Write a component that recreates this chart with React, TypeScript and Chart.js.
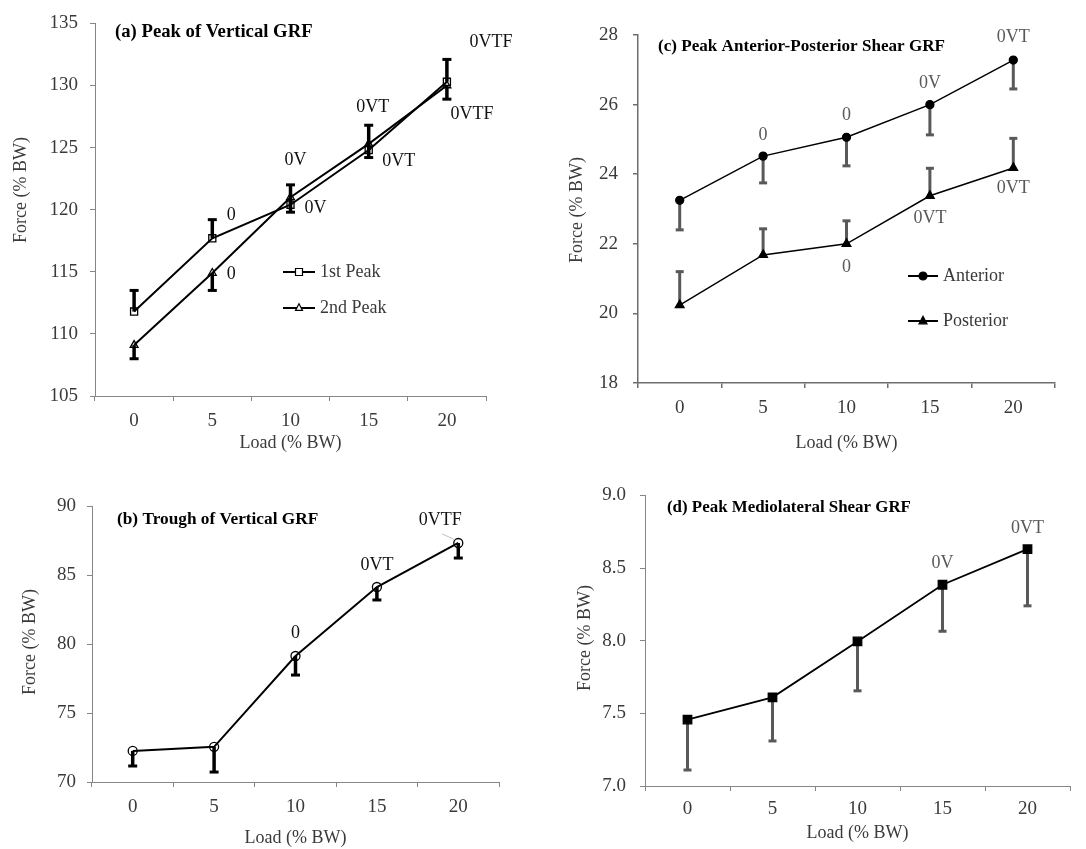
import React, { useEffect, useRef } from 'react';
import { Chart, registerables } from 'chart.js';

Chart.register(...registerables);

// ---------------- data ----------------
const loadLabels = ['0', '5', '10', '15', '20'];

// (a) Peak of vertical GRF
const peak1Mean = [111.8, 117.7, 120.4, 124.8, 130.3];
const peak1ErrEnd = [113.5, 119.2, 122.0, 126.8, 132.1];
const peak1Sig = ['', '0', '0V', '0VT', '0VTF'];
const peak2Mean = [109.1, 114.9, 121.0, 125.3, 130.0];
const peak2ErrEnd = [108.0, 113.5, 119.8, 124.2, 128.9];
const peak2Sig = ['', '0', '0V', '0VT', '0VTF'];
const yTicksA = [105, 110, 115, 120, 125, 130, 135];

// (b) Trough of vertical GRF
const troughMean = [72.25, 72.55, 79.13, 84.13, 87.32];
const troughErrEnd = [71.16, 70.72, 77.75, 83.19, 86.23];
const troughSig = ['', '', '0', '0VT', '0VTF'];
const yTicksB = [70, 75, 80, 85, 90];

// (c) Peak anterior-posterior shear GRF
const anteriorMean = [23.25, 24.52, 25.06, 26.0, 27.28];
const anteriorErrEnd = [22.4, 23.75, 24.24, 25.13, 26.45];
const anteriorSig = ['', '0', '0', '0V', '0VT'];
const posteriorMean = [20.24, 21.68, 22.0, 23.38, 24.18];
const posteriorErrEnd = [21.2, 22.43, 22.66, 24.17, 25.03];
const posteriorSig = ['', '', '0', '0VT', '0VT'];
const yTicksC = [18, 20, 22, 24, 26, 28];

// (d) Peak mediolateral shear GRF
const mediolateralMean = [7.457, 7.61, 7.995, 8.385, 8.63];
const mediolateralErrEnd = [7.11, 7.31, 7.655, 8.065, 8.24];
const mediolateralSig = ['', '', '', '0V', '0VT'];
const yTicksD = [7.0, 7.5, 8.0, 8.5, 9.0];

// ---------------- style ----------------
const FONT = "'Liberation Serif', 'DejaVu Serif', serif";
const FS = 18;
const TICK_FS = 19;
const TEXT = '#3a3a3a';
const AXIS = '#868686';
const BAR_GRAY = '#595959';

type Marker = 'rect' | 'triangle' | 'circle';

interface ErrSpec { dataset: number; ends: number[]; color: string; width: number; cap: number; capW: number; }
interface SigSpec { dataset: number; texts: string[]; offsets: number[][]; color: string; leader?: boolean[]; }
interface LegSpec { text: string; x1: number; x2: number; y: number; marker: Marker; size: number; filled: boolean; }

interface PanelSpec {
  left: number; top: number; width: number; height: number;
  ca: { l: number; r: number; t: number; b: number };
  xTitleY: number; yTitle: { x: number; y: number }; yTickGap: number; xTickPad: number;
  yTicks: number[]; decimals: number; axisColor: string; axisWidth: number;
  title: { text: string; x: number; y: number; size: number };
  datasets: any[];
  errors: ErrSpec[];
  sigs: SigSpec[];
  legend: LegSpec[];
  legendTextX: number;
}

function drawMarker(ctx: CanvasRenderingContext2D, m: Marker, x: number, y: number, s: number, filled: boolean) {
  ctx.beginPath();
  if (m === 'rect') {
    ctx.rect(x - s / 2, y - s / 2, s, s);
  } else if (m === 'triangle') {
    ctx.moveTo(x, y - s * 0.6);
    ctx.lineTo(x - s / 2, y + s * 0.35);
    ctx.lineTo(x + s / 2, y + s * 0.35);
    ctx.closePath();
  } else {
    ctx.arc(x, y, s / 2, 0, Math.PI * 2);
  }
  ctx.fillStyle = filled ? '#000' : '#fff';
  ctx.fill();
  ctx.strokeStyle = '#000';
  ctx.lineWidth = 1.2;
  ctx.stroke();
}

function makeExtras(p: PanelSpec) {
  return {
    id: 'extras',
    beforeDatasetsDraw(chart: any) {
      const ctx = chart.ctx as CanvasRenderingContext2D;
      const ys = chart.scales.y;
      ctx.save();
      for (const e of p.errors) {
        const meta = chart.getDatasetMeta(e.dataset);
        meta.data.forEach((pt: any, i: number) => {
          const x = pt.x;
          const y0 = pt.y;
          const y1 = ys.getPixelForValue(e.ends[i]);
          ctx.strokeStyle = e.color;
          ctx.lineCap = 'butt';
          ctx.lineWidth = e.width;
          ctx.beginPath();
          ctx.moveTo(x, y0);
          ctx.lineTo(x, y1);
          ctx.stroke();
          ctx.lineWidth = e.capW;
          ctx.beginPath();
          ctx.moveTo(x - e.cap / 2, y1);
          ctx.lineTo(x + e.cap / 2, y1);
          ctx.stroke();
        });
      }
      ctx.restore();
    },
    afterDatasetsDraw(chart: any) {
      const ctx = chart.ctx as CanvasRenderingContext2D;
      ctx.save();
      ctx.font = `${FS}px ${FONT}`;
      ctx.textAlign = 'center';
      ctx.textBaseline = 'middle';
      for (const s of p.sigs) {
        const meta = chart.getDatasetMeta(s.dataset);
        meta.data.forEach((pt: any, i: number) => {
          const t = s.texts[i];
          if (!t) return;
          const [dx, dy] = s.offsets[i];
          ctx.fillStyle = s.color;
          ctx.fillText(t, pt.x + dx, pt.y + dy);
          if (s.leader && s.leader[i]) {
            ctx.strokeStyle = '#c0c0c0';
            ctx.lineWidth = 1;
            ctx.beginPath();
            ctx.moveTo(pt.x + dx + 2, pt.y + dy + 14);
            ctx.lineTo(pt.x - 3, pt.y - 3);
            ctx.stroke();
          }
        });
      }
      // y axis title
      ctx.save();
      ctx.translate(p.yTitle.x, p.yTitle.y);
      ctx.rotate(-Math.PI / 2);
      ctx.fillStyle = TEXT;
      ctx.font = `${FS}px ${FONT}`;
      ctx.fillText('Force (% BW)', 0, 0);
      ctx.restore();
      // panel title
      ctx.font = `bold ${p.title.size}px ${FONT}`;
      ctx.textAlign = 'left';
      ctx.fillStyle = '#000';
      ctx.fillText(p.title.text, p.title.x, p.title.y);
      // legend
      ctx.font = `${FS}px ${FONT}`;
      for (const l of p.legend) {
        ctx.strokeStyle = '#000';
        ctx.lineWidth = 2;
        ctx.beginPath();
        ctx.moveTo(l.x1, l.y);
        ctx.lineTo(l.x2, l.y);
        ctx.stroke();
        drawMarker(ctx, l.marker, (l.x1 + l.x2) / 2, l.y, l.size, l.filled);
        ctx.fillStyle = TEXT;
        ctx.textAlign = 'left';
        ctx.fillText(l.text, p.legendTextX, l.y);
      }
      ctx.restore();
    },
  };
}

function buildConfig(p: PanelSpec): any {
  const lh = FS * 1.2;
  const font = { family: FONT, size: FS };
  const tickFont = { family: FONT, size: TICK_FS };
  return {
    type: 'line',
    data: { labels: loadLabels, datasets: p.datasets },
    options: {
      responsive: false,
      animation: false,
      devicePixelRatio: 1,
      layout: { padding: { top: p.ca.t, right: p.width - p.ca.r, bottom: 0, left: 0 } },
      plugins: { legend: { display: false }, tooltip: { enabled: false }, title: { display: false } },
      scales: {
        x: {
          type: 'category',
          offset: true,
          grid: { offset: true, drawOnChartArea: false, drawTicks: true, tickLength: 5, color: p.axisColor, lineWidth: p.axisWidth },
          border: { color: p.axisColor, width: p.axisWidth },
          ticks: { font: tickFont, color: TEXT, padding: p.xTickPad, maxRotation: 0, autoSkip: false },
          title: { display: true, text: 'Load (% BW)', font, color: TEXT, padding: { top: 0, bottom: p.height - p.xTitleY - lh / 2 } },
          afterFit: (s: any) => { s.height = p.height - p.ca.b; },
        },
        y: {
          min: p.yTicks[0],
          max: p.yTicks[p.yTicks.length - 1],
          afterBuildTicks: (s: any) => { s.ticks = p.yTicks.map((v) => ({ value: v })); },
          ticks: { font: tickFont, color: TEXT, padding: p.yTickGap - 5, callback: (v: any) => Number(v).toFixed(p.decimals) },
          grid: { drawOnChartArea: false, drawTicks: true, tickLength: 5, color: p.axisColor, lineWidth: p.axisWidth },
          border: { color: p.axisColor, width: p.axisWidth },
          title: { display: false },
          afterFit: (s: any) => { s.width = p.ca.l; },
        },
      },
    },
    plugins: [makeExtras(p)],
  };
}

function lineDs(label: string, data: number[], style: Marker, radius: number, filled: boolean, width: number) {
  return {
    label,
    data,
    borderColor: '#000',
    borderWidth: width,
    fill: false,
    tension: 0,
    pointStyle: style,
    pointRadius: radius,
    pointBorderWidth: 1.3,
    pointBorderColor: '#000',
    pointBackgroundColor: filled ? '#000' : 'rgba(255,255,255,0)',
  };
}

const panelA: PanelSpec = {
  left: 0, top: 0, width: 540, height: 460,
  ca: { l: 95, r: 486, t: 18, b: 396 },
  xTitleY: 443, yTitle: { x: 21, y: 190 }, yTickGap: 17, xTickPad: 9,
  yTicks: yTicksA, decimals: 0, axisColor: AXIS, axisWidth: 1,
  title: { text: '(a) Peak of Vertical GRF', x: 115, y: 32, size: 18.7 },
  datasets: [
    lineDs('1st Peak', peak1Mean, 'rect', 5, false, 2),
    lineDs('2nd Peak', peak2Mean, 'triangle', 4.5, false, 2),
  ],
  errors: [
    { dataset: 0, ends: peak1ErrEnd, color: '#000', width: 3.5, cap: 9, capW: 3 },
    { dataset: 1, ends: peak2ErrEnd, color: '#000', width: 3.5, cap: 9, capW: 3 },
  ],
  sigs: [
    { dataset: 0, texts: peak1Sig, offsets: [[0, 0], [19, -23], [5, -44], [4, -43], [44, -40]], color: '#111' },
    { dataset: 1, texts: peak2Sig, offsets: [[0, 0], [19, 1], [25, 11], [30, 17], [25, 29]], color: '#111' },
  ],
  legend: [
    { text: '1st Peak', x1: 283, x2: 315, y: 272, marker: 'rect', size: 7, filled: false },
    { text: '2nd Peak', x1: 283, x2: 315, y: 308, marker: 'triangle', size: 7, filled: false },
  ],
  legendTextX: 320,
};

const panelB: PanelSpec = {
  left: 0, top: 470, width: 540, height: 379,
  ca: { l: 92, r: 499, t: 36, b: 312 },
  xTitleY: 368, yTitle: { x: 30, y: 172 }, yTickGap: 16, xTickPad: 9,
  yTicks: yTicksB, decimals: 0, axisColor: AXIS, axisWidth: 1,
  title: { text: '(b) Trough of Vertical GRF', x: 117, y: 50, size: 17.3 },
  datasets: [lineDs('Trough', troughMean, 'circle', 4.5, false, 2)],
  errors: [{ dataset: 0, ends: troughErrEnd, color: '#000', width: 3.5, cap: 9, capW: 3 }],
  sigs: [
    { dataset: 0, texts: troughSig, offsets: [[0, 0], [0, 0], [0, -23], [0, -22], [-18, -23]], color: '#111', leader: [false, false, false, false, true] },
  ],
  legend: [],
  legendTextX: 0,
};

const panelC: PanelSpec = {
  left: 540, top: 0, width: 546, height: 460,
  ca: { l: 98, r: 515, t: 35, b: 383 },
  xTitleY: 443, yTitle: { x: 37, y: 210 }, yTickGap: 20, xTickPad: 9,
  yTicks: yTicksC, decimals: 0, axisColor: '#6e6e6e', axisWidth: 1.5,
  title: { text: '(c) Peak Anterior-Posterior Shear GRF', x: 118, y: 47, size: 17.1 },
  datasets: [
    lineDs('Anterior', anteriorMean, 'circle', 4, true, 1.5),
    lineDs('Posterior', posteriorMean, 'triangle', 5, true, 1.5),
  ],
  errors: [
    { dataset: 0, ends: anteriorErrEnd, color: BAR_GRAY, width: 3, cap: 8, capW: 3 },
    { dataset: 1, ends: posteriorErrEnd, color: BAR_GRAY, width: 3, cap: 8, capW: 3 },
  ],
  sigs: [
    { dataset: 0, texts: anteriorSig, offsets: [[0, 0], [0, -21], [0, -22], [0, -21], [0, -23]], color: BAR_GRAY },
    { dataset: 1, texts: posteriorSig, offsets: [[0, 0], [0, 0], [0, 23], [0, 22], [0, 20]], color: BAR_GRAY },
  ],
  legend: [
    { text: 'Anterior', x1: 368, x2: 398, y: 276, marker: 'circle', size: 8, filled: true },
    { text: 'Posterior', x1: 368, x2: 398, y: 321, marker: 'triangle', size: 8, filled: true },
  ],
  legendTextX: 403,
};

const panelD: PanelSpec = {
  left: 540, top: 470, width: 546, height: 379,
  ca: { l: 105, r: 530, t: 23, b: 316 },
  xTitleY: 363, yTitle: { x: 45, y: 168 }, yTickGap: 19, xTickPad: 7,
  yTicks: yTicksD, decimals: 1, axisColor: AXIS, axisWidth: 1,
  title: { text: '(d) Peak Mediolateral Shear GRF', x: 127, y: 38, size: 16.9 },
  datasets: [lineDs('Mediolateral', mediolateralMean, 'rect', 6, true, 1.8)],
  errors: [{ dataset: 0, ends: mediolateralErrEnd, color: BAR_GRAY, width: 3, cap: 8, capW: 3 }],
  sigs: [
    { dataset: 0, texts: mediolateralSig, offsets: [[0, 0], [0, 0], [0, 0], [0, -21], [0, -21]], color: BAR_GRAY },
  ],
  legend: [],
  legendTextX: 0,
};

function ChartPanel({ spec }: { spec: PanelSpec }) {
  const ref = useRef<HTMLCanvasElement>(null);
  useEffect(() => {
    const chart = new Chart(ref.current as HTMLCanvasElement, buildConfig(spec));
    return () => chart.destroy();
  }, [spec]);
  return (
    <canvas
      ref={ref}
      width={spec.width}
      height={spec.height}
      style={{ position: 'absolute', left: spec.left, top: spec.top, width: spec.width, height: spec.height }}
    />
  );
}

export default function App() {
  return (
    <div style={{ position: 'absolute', left: 0, top: 0, width: 1086, height: 849, background: '#fff', overflow: 'hidden' }}>
      <ChartPanel spec={panelA} />
      <ChartPanel spec={panelB} />
      <ChartPanel spec={panelC} />
      <ChartPanel spec={panelD} />
    </div>
  );
}
